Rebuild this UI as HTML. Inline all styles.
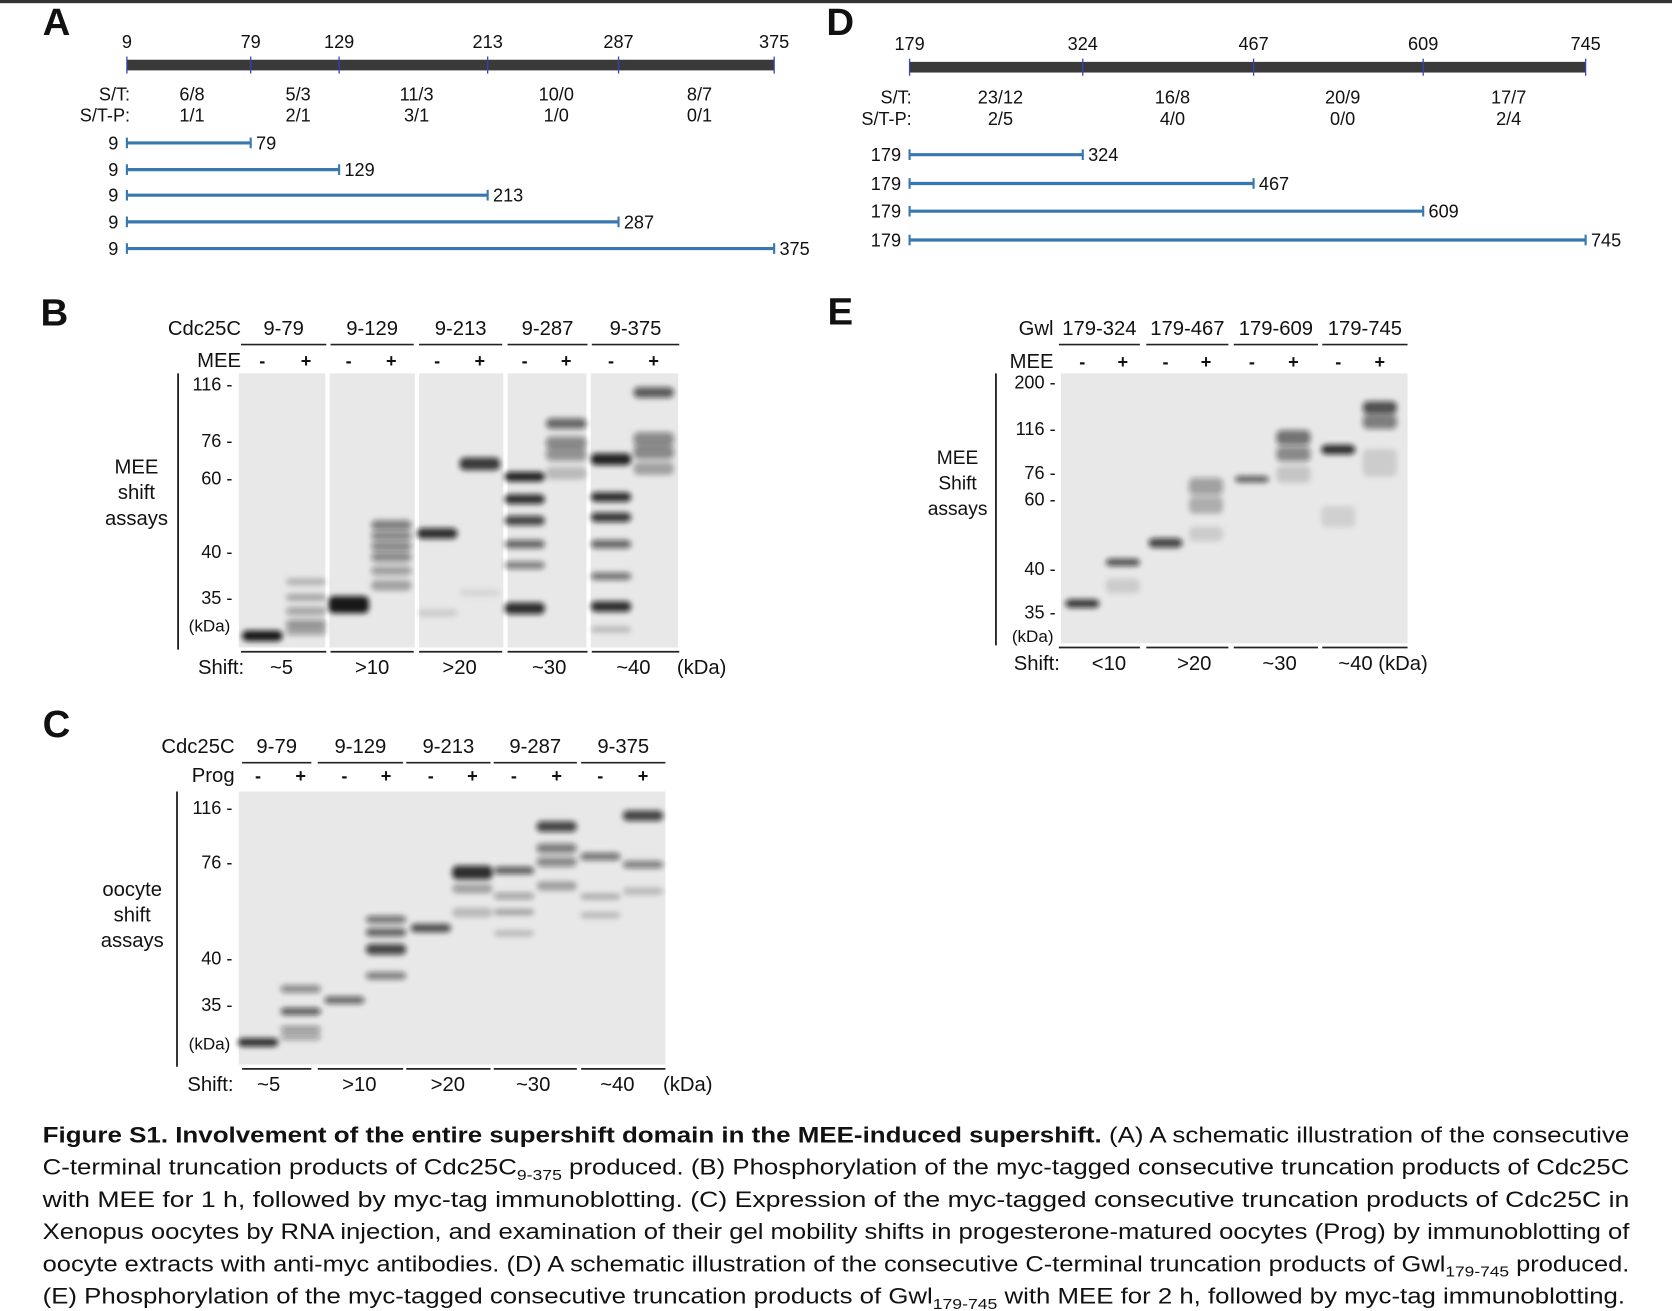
<!DOCTYPE html>
<html><head><meta charset="utf-8"><style>
html,body{margin:0;padding:0;background:#fff}
svg{display:block}
text{font-family:"Liberation Sans",Arial,sans-serif;fill:#111}
</style></head><body>
<svg id="fig" width="1672" height="1311" viewBox="0 0 1568 1229" preserveAspectRatio="none" xmlns="http://www.w3.org/2000/svg">
<defs>
<filter id="blur" x="-30%" y="-150%" width="160%" height="400%"><feGaussianBlur stdDeviation="2.6 2.4"/></filter>
</defs>
<rect x="0" y="0" width="1568" height="3" fill="#333"/>
<g id="root"></g>
</svg>
<script>
// ---------- Panel A data ----------
const aTicks = [9, 79, 129, 213, 287, 375];
const aST = ["6/8", "5/3", "11/3", "10/0", "8/7"];
const aSTP = ["1/1", "2/1", "3/1", "1/0", "0/1"];
const aEnds = [79, 129, 213, 287, 375];
// ---------- Panel D data ----------
const dTicks = [179, 324, 467, 609, 745];
const dST = ["23/12", "16/8", "20/9", "17/7"];
const dSTP = ["2/5", "4/0", "0/0", "2/4"];
const dEnds = [324, 467, 609, 745];
// ---------- Gel B data ----------
const bGroups = ["9-79", "9-129", "9-213", "9-287", "9-375"];
const bShift = ["~5", ">10", ">20", "~30", "~40"];
const bMarkers = [116, 76, 60, 40, 35];
// bands: [lane index, kDa, darkness 0-1, thickness]
const bBands = [
 [0,30.8,0.95,10],
 [1,36.7,0.22,7],[1,35,0.28,7],[1,33.5,0.35,7],[1,32.1,0.4,8],[1,31.3,0.35,7],
 [2,34.2,0.95,16],
 [3,47.2,0.5,9],[3,44.3,0.45,9],[3,41.4,0.45,9],[3,39.4,0.45,9],[3,37.9,0.35,9],[3,36.3,0.3,10],
 [4,44.9,0.85,10],[4,33.3,0.12,7],
 [5,66,0.8,12],[5,35.5,0.08,7],
 [6,60.5,0.9,9],[6,54.2,0.85,9],[6,48.4,0.75,9],[6,42,0.6,8],[6,38.5,0.5,7],[6,33.8,0.85,11],
 [7,88,0.6,10],[7,75,0.45,12],[7,70,0.4,12],[7,62,0.2,12],
 [8,68,0.9,11],[8,54.8,0.85,9],[8,49.3,0.8,9],[8,42,0.6,8],[8,37.3,0.55,7],[8,34,0.85,10],[8,31.5,0.2,6],
 [9,110,0.65,10],[9,77,0.45,13],[9,71,0.45,13],[9,64,0.3,12]
];
// ---------- Gel C data ----------
const cGroups = ["9-79", "9-129", "9-213", "9-287", "9-375"];
const cShift = ["~5", ">10", ">20", "~30", "~40"];
const cMarkers = [116, 76, 40, 35];
const cBands = [
 [0,31.0,0.85,8],
 [1,36.7,0.45,7],[1,34.3,0.65,7],[1,32.4,0.4,6],[1,31.6,0.35,6],
 [2,35.5,0.6,7],
 [3,54.4,0.55,7],[3,49.6,0.6,8],[3,43.2,0.75,10],[3,38.1,0.5,7],
 [4,51.2,0.7,8],
 [5,72,0.85,13],[5,66,0.3,9],[5,57,0.2,9],
 [6,72.8,0.65,7],[6,63.2,0.35,6],[6,57.2,0.3,6],[6,49.2,0.2,6],
 [7,102,0.75,10],[7,86,0.5,9],[7,76,0.45,9],[7,67,0.3,9],
 [8,80,0.55,7],[8,63,0.25,6],[8,56,0.2,6],
 [9,110,0.75,10],[9,75,0.5,7],[9,65,0.2,7]
];
// ---------- Gel E data ----------
const eGroups = ["179-324", "179-467", "179-609", "179-745"];
const eShift = ["<10", ">20", "~30", "~40 (kDa)"];
const eMarkers = [200, 116, 76, 60, 40, 35];
const eBands = [
 [0,36,0.8,8],
 [1,41.8,0.7,7],[1,38,0.12,14],
 [2,47.4,0.75,9],
 [3,67.7,0.35,16],[3,58.3,0.25,16],[3,50,0.12,14],
 [4,72,0.65,6],
 [5,108,0.55,14],[5,93,0.45,14],[5,75,0.15,16],
 [6,97,0.85,9],[6,55,0.1,20],
 [7,154,0.7,12],[7,129,0.5,14],[7,85,0.12,26]
];

const root = document.getElementById('root');
const NS = 'http://www.w3.org/2000/svg';
function mk(tag, attrs, parent, txt){
  const e = document.createElementNS(NS, tag);
  for (const k in attrs) e.setAttribute(k, attrs[k]);
  if (txt !== undefined) e.textContent = txt;
  (parent || root).appendChild(e);
  return e;
}
function T(x,y,s,size,anchor,name,extra){
  const e = mk('text', Object.assign({x:x,y:y,'font-size':size||17,'text-anchor':anchor||'middle'}, extra||{}), null, s);
  
  
  return e;
}
function L(x1,y1,x2,y2,stroke,w,name){
  const e = mk('line',{x1:x1,y1:y1,x2:x2,y2:y2,stroke:stroke,'stroke-width':w});
  
  
  return e;
}
[['A',40,33],['D',775,33],['B',38,305],['E',776,304],['C',40,691]].forEach(p=>{
  T(p[1],p[2],p[0],36,'start','panel-label-'+p[0].toLowerCase(),{'font-weight':'bold'});
});

function schematic(ticks, st, stp, ends, x0, x1, barY, tickLblY, stY, stpY, lblX, lineYs, prefix){
  const v0 = ticks[0], v1 = ticks[ticks.length-1];
  const sx = v => x0 + (v - v0) / (v1 - v0) * (x1 - x0);
  const bar = mk('rect',{x:x0,y:barY-5,width:x1-x0,height:10,fill:'#3a3a3a'});
  
  
  ticks.forEach(t=>{
    L(sx(t),barY-8,sx(t),barY+8,'#3344bb',1.2,prefix+'-tick');
    T(sx(t),tickLblY,String(t),17,'middle',prefix+'-tick-label');
  });
  T(lblX,stY,'S/T:',17,'end',prefix+'-st-label');
  T(lblX,stpY,'S/T-P:',17,'end',prefix+'-stp-label');
  st.forEach((s,i)=>{
    const cx = (sx(ticks[i]) + sx(ticks[i+1]))/2 + (prefix==='a'?3:4);
    T(cx,stY,s,17,'middle',prefix+'-st-value');
    T(cx,stpY,stp[i],17,'middle',prefix+'-stp-value');
  });
  ends.forEach((en,i)=>{
    const y = lineYs[i];
    L(sx(v0),y,sx(en),y,'#3878b0',3,prefix+'-truncation-line');
    L(sx(v0),y-5,sx(v0),y+5,'#3878b0',2,prefix+'-truncation-start');
    L(sx(en),y-5,sx(en),y+5,'#3878b0',2,prefix+'-truncation-end');
    T(sx(v0)-8,y+6,String(v0),17,'end',prefix+'-truncation-start-label');
    T(sx(en)+5,y+6,String(en),17,'start',prefix+'-truncation-end-label');
  });
}
schematic(aTicks,aST,aSTP,aEnds,119,726,61,45,94,114,122,[134,159,183,208,233],'a');
schematic(dTicks,dST,dSTP,dEnds,853,1487,63,47,97,117,855,[145,172,198,225],'d');

function interp(markers, ys, kda){
  for (let i=0;i<markers.length-1;i++){
    const a=markers[i], b=markers[i+1];
    if ((kda<=a && kda>=b) || (i===0 && kda>a) || (i===markers.length-2 && kda<b)){
      return ys[i] + (kda-a)/(b-a)*(ys[i+1]-ys[i]);
    }
  }
  return ys[ys.length-1];
}
function gel(cfg){
  const g = mk('g',{});
  
  
  cfg.boxes.forEach((b)=>{
    const r = mk('rect',{x:b[0],y:cfg.top,width:b[1]-b[0],height:cfg.bottom-cfg.top,fill:'#e8e8e8'},g);
    
    
  });
  L(cfg.axisX,cfg.top,cfg.axisX,cfg.bottom+2,'#111',1.6,cfg.name+'-axis');
  cfg.markers.forEach((m,i)=>{
    T(cfg.markerX,cfg.markerYs[i]+6,m+' -',17,'end',cfg.name+'-marker-label');
  });
  T(cfg.markerX-2,cfg.kdaY,'(kDa)',16,'end',cfg.name+'-kda-unit');
  T(cfg.hdrX,cfg.hdrY,cfg.hdrTitle,19,'end',cfg.name+'-construct-title');
  cfg.groups.forEach((s,i)=>{
    const u = cfg.under[i];
    T((u[0]+u[1])/2,cfg.hdrY,s,19,'middle',cfg.name+'-construct-label');
    L(u[0],cfg.hdrY+9,u[1],cfg.hdrY+9,'#222',1.6,cfg.name+'-construct-underline');
    L(u[0],cfg.bottom+4,u[1],cfg.bottom+4,'#222',1.6,cfg.name+'-shift-underline');
    T(cfg.shiftX[i],cfg.bottom+25,cfg.shift[i],19,'middle',cfg.name+'-shift-value');
  });
  T(cfg.hdrX,cfg.treatY,cfg.treat,19,'end',cfg.name+'-treatment-label');
  cfg.lanes.forEach((x,i)=>{
    T(x,cfg.treatY,i%2? '+':'-',17,'middle',cfg.name+'-treatment-sign',{'font-weight':'bold'});
  });
  T(cfg.shiftLblX,cfg.bottom+25,'Shift:',19,'end',cfg.name+'-shift-label');
  if (cfg.kdaX) T(cfg.kdaX,cfg.bottom+25,'(kDa)',19,'middle',cfg.name+'-shift-unit');
  cfg.side.forEach((s,i)=>T(cfg.sideX,cfg.sideY+i*24,s,cfg.sideSize||19,'middle',cfg.name+'-side-label'));
  cfg.bands.forEach(b=>{
    const x = cfg.lanes[b[0]];
    const y = interp(cfg.markers, cfg.markerYs, b[1]);
    const e = mk('rect',{x:x-cfg.bw/2,y:y-b[3]/2,width:cfg.bw,height:b[3],rx:5,fill:'#111','fill-opacity':b[2],filter:'url(#blur)'},g);
    
    
  });
}
gel({name:'gel-b',top:350,bottom:607,boxes:[[224,305],[309,389],[393,472],[476,550],[554,636]],
  axisX:167,markerX:218,markers:bMarkers,markerYs:[360,413,448,517,560],kdaY:592,
  hdrX:226,hdrY:314,hdrTitle:'Cdc25C',groups:bGroups,
  under:[[226,306],[310,388],[393,471],[476,551],[555,637]],
  treat:'MEE',treatY:344,lanes:[246,287,327,367,410,450,492,531,573,613],
  shift:bShift,shiftX:[264,349,431,515,594],shiftLblX:229,kdaX:658,
  side:['MEE','shift','assays'],sideX:128,sideY:444,bands:bBands,bw:38});
gel({name:'gel-c',top:742,bottom:998,boxes:[[224,624]],
  axisX:166,markerX:218,markers:cMarkers,markerYs:[757,808,898,942],kdaY:984,
  hdrX:220,hdrY:706,hdrTitle:'Cdc25C',groups:cGroups,
  under:[[227,292],[298,378],[381,460],[463,541],[545,624]],
  treat:'Prog',treatY:733,lanes:[242,282,323,362,404,443,482,522,563,603],
  shift:cShift,shiftX:[252,337,420,500,579],shiftLblX:219,kdaX:645,
  side:['oocyte','shift','assays'],sideX:124,sideY:840,bands:cBands,bw:38});
gel({name:'gel-e',top:350,bottom:603,boxes:[[995,1320]],
  axisX:934,markerX:990,markers:eMarkers,markerYs:[358,402,443,468,533,574],kdaY:602,
  hdrX:988,hdrY:314,hdrTitle:'Gwl',groups:eGroups,
  under:[[993,1069],[1075,1152],[1157,1236],[1240,1320]],
  treat:'MEE',treatY:345,lanes:[1015,1053,1093,1131,1174,1213,1255,1294],
  shift:eShift,shiftX:[1040,1120,1200,1297],shiftLblX:994,kdaX:0,
  side:['MEE','Shift','assays'],sideX:898,sideY:435,sideSize:18,bands:eBands,bw:32});

const cap = [
 [['b','Figure S1. Involvement  of the entire supershift domain in the MEE-induced supershift.'],['n','  (A) A schematic illustration of the consecutive']],
 [['n','C-terminal truncation products  of Cdc25C'],['s','9-375'],['n',' produced.  (B) Phosphorylation  of the myc-tagged consecutive truncation  products of Cdc25C']],
 [['n','with MEE for 1 h, followed by myc-tag immunoblotting.  (C) Expression of the myc-tagged consecutive truncation  products of Cdc25C in']],
 [['n','Xenopus  oocytes by RNA injection, and examination of their gel mobility shifts in progesterone-matured  oocytes (Prog) by immunoblotting of']],
 [['n','oocyte extracts with anti-myc antibodies. (D) A schematic illustration of the consecutive C-terminal truncation products of Gwl'],['s','179-745'],['n',' produced.']],
 [['n','(E) Phosphorylation  of the myc-tagged consecutive truncation  products of Gwl'],['s','179-745'],['n',' with MEE for 2 h, followed by myc-tag immunoblotting.']]
];
const capWidths = [1488,1488,1488,1488,1488,1484];
cap.forEach((line,i)=>{
  const t = mk('text',{x:40,y:1071+i*30.2,'font-size':20.5,'text-anchor':'start',textLength:capWidths[i],lengthAdjust:'spacingAndGlyphs','xml:space':'preserve'});
  
  
  line.forEach(seg=>{
    const a = {};
    if (seg[0]==='b') a['font-weight']='bold';
    if (seg[0]==='s'){ a['font-size']=14; a['dy']=5; }
    const ts = mk('tspan',a,t,seg[1]);
    if (seg[0]==='s'){ ts.setAttribute('data-after','1'); }
  });
  const spans = t.querySelectorAll('tspan');
  spans.forEach((s,k)=>{ if (k>0 && spans[k-1].getAttribute('data-after')) s.setAttribute('dy',-5); });
});
</script>
</body></html>
